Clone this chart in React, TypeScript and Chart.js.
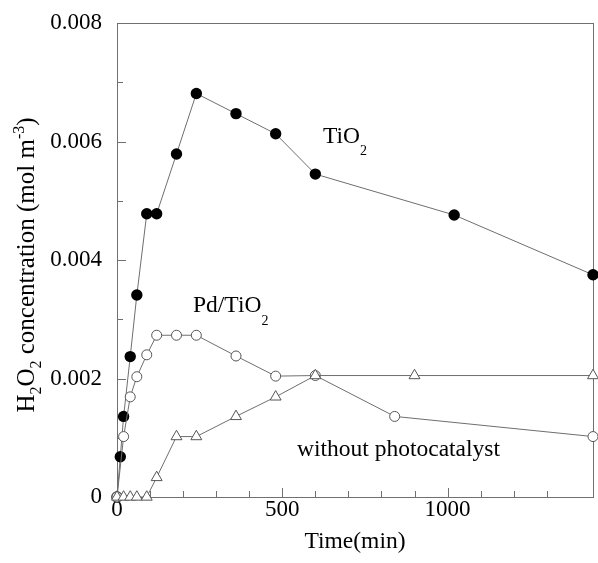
import { useEffect, useRef } from "react";
import { Chart, registerables } from "chart.js";

Chart.register(...registerables);

// Sampling times (min) and H2O2 concentrations (mol m^-3)
const timeTiO2 = [0, 10, 20, 40, 60, 90, 120, 180, 240, 360, 480, 600, 1020, 1440];
const concTiO2 = [0, 0.00068, 0.00136, 0.00237, 0.00341, 0.00478, 0.00478, 0.00579, 0.00681, 0.00647, 0.00613, 0.00545, 0.00476, 0.00375];

const timePd = [0, 20, 40, 60, 90, 120, 180, 240, 360, 480, 600, 840, 1440];
const concPd = [0, 0.00102, 0.00169, 0.00203, 0.0024, 0.00273, 0.00273, 0.00273, 0.00238, 0.00204, 0.00205, 0.00136, 0.00102];

const timeBlank = [0, 20, 40, 60, 90, 120, 180, 240, 360, 480, 600, 900, 1440];
const concBlank = [0, 0, 0, 0, 0, 0.00033, 0.00102, 0.00102, 0.00136, 0.00169, 0.00205, 0.00205, 0.00205];

// Axis ranges and tick spacing
const xMin = 0;
const xMax = 1440;
const xStep = 100;
const xLabelStep = 500;
const yMin = 0;
const yMax = 0.008;
const yStep = 0.001;
const yLabelStep = 0.002;

const SERIF = "'Liberation Serif', 'Times New Roman', serif";
const LINE = "#6e6e6e";
const FRAME = "#707070";

type Run = { text: string; size: number; dy: number };

function runsWidth(ctx: CanvasRenderingContext2D, runs: Run[]) {
  let w = 0;
  for (const r of runs) {
    ctx.font = `${r.size}px ${SERIF}`;
    w += ctx.measureText(r.text).width;
  }
  return w;
}

function drawRuns(ctx: CanvasRenderingContext2D, x: number, y: number, runs: Run[]) {
  let cx = x;
  ctx.textBaseline = "alphabetic";
  ctx.textAlign = "left";
  for (const r of runs) {
    ctx.font = `${r.size}px ${SERIF}`;
    ctx.fillText(r.text, cx, y + r.dy);
    cx += ctx.measureText(r.text).width;
  }
}

const pts = (xs: number[], ys: number[]) => xs.map((x, i) => ({ x, y: ys[i] }));

const isMultiple = (v: number, step: number) => Math.abs(v / step - Math.round(v / step)) < 1e-6;

// Frame, inward tick marks, axis titles with sub/superscripts and series labels
const frameAndTicks = {
  id: "frameAndTicks",
  beforeDatasetsDraw(chart: any) {
    const { ctx, chartArea } = chart;
    const { left, right, top, bottom } = chartArea;
    ctx.save();
    ctx.strokeStyle = FRAME;
    ctx.lineWidth = 1;
    for (const t of chart.scales.x.ticks) {
      if (!isMultiple(t.value, xStep)) continue;
      if (t.value <= xMin || t.value >= xMax) continue;
      const px = Math.round(chart.scales.x.getPixelForValue(t.value)) + 0.5;
      const len = isMultiple(t.value, xLabelStep) ? 9 : 6;
      ctx.beginPath();
      ctx.moveTo(px, bottom);
      ctx.lineTo(px, bottom - len);
      ctx.stroke();
    }
    for (const t of chart.scales.y.ticks) {
      if (!isMultiple(t.value, yStep)) continue;
      if (t.value <= yMin || t.value >= yMax) continue;
      const py = Math.round(chart.scales.y.getPixelForValue(t.value)) + 0.5;
      const len = isMultiple(t.value, yLabelStep) ? 9 : 6;
      ctx.beginPath();
      ctx.moveTo(left, py);
      ctx.lineTo(left + len, py);
      ctx.stroke();
    }
    ctx.strokeRect(Math.round(left) + 0.5, Math.round(top) + 0.5, Math.round(right - left), Math.round(bottom - top));
    ctx.restore();
  },
  afterDraw(chart: any) {
    const { ctx, chartArea } = chart;
    ctx.save();
    ctx.fillStyle = "#000";

    const xt: Run[] = [{ text: "Time(min)", size: 23.5, dy: 0 }];
    const xw = runsWidth(ctx, xt);
    drawRuns(ctx, (chartArea.left + chartArea.right) / 2 - xw / 2, 548, xt);

    const yt: Run[] = [
      { text: "H", size: 25, dy: 0 },
      { text: "2", size: 16, dy: 7 },
      { text: "O", size: 25, dy: 0 },
      { text: "2", size: 16, dy: 7 },
      { text: " concentration (mol m", size: 25, dy: 0 },
      { text: "-3", size: 16, dy: -10 },
      { text: ")", size: 25, dy: 0 },
    ];
    const yw = runsWidth(ctx, yt);
    ctx.save();
    ctx.translate(34, 265);
    ctx.rotate(-Math.PI / 2);
    drawRuns(ctx, -yw / 2, 0, yt);
    ctx.restore();

    drawRuns(ctx, 323, 143, [
      { text: "TiO", size: 23.5, dy: 0 },
      { text: "2", size: 14, dy: 12 },
    ]);
    drawRuns(ctx, 193, 312, [
      { text: "Pd/TiO", size: 23.5, dy: 0 },
      { text: "2", size: 14, dy: 13 },
    ]);
    drawRuns(ctx, 297, 456, [{ text: "without photocatalyst", size: 23.5, dy: 0 }]);
    ctx.restore();
  },
};

export default function App() {
  const canvasRef = useRef<HTMLCanvasElement | null>(null);

  useEffect(() => {
    const canvas = canvasRef.current;
    if (!canvas) return;
    const chart = new Chart(canvas, {
      type: "scatter",
      data: {
        datasets: [
          {
            label: "without photocatalyst",
            data: pts(timeBlank, concBlank),
            showLine: true,
            borderColor: LINE,
            borderWidth: 1,
            pointStyle: "triangle",
            pointRadius: 6.3,
            pointBackgroundColor: "#ffffff",
            pointBorderColor: "#555555",
            pointBorderWidth: 1,
            clip: false,
          },
          {
            label: "Pd/TiO2",
            data: pts(timePd, concPd),
            showLine: true,
            borderColor: LINE,
            borderWidth: 1,
            pointStyle: "circle",
            pointRadius: 5,
            pointBackgroundColor: "#ffffff",
            pointBorderColor: "#555555",
            pointBorderWidth: 1,
            clip: false,
          },
          {
            label: "TiO2",
            data: pts(timeTiO2, concTiO2),
            showLine: true,
            borderColor: LINE,
            borderWidth: 1,
            pointStyle: "circle",
            pointRadius: 5.7,
            pointBackgroundColor: "#000000",
            pointBorderColor: "#000000",
            pointBorderWidth: 0,
            clip: false,
          },
        ],
      },
      options: {
        responsive: false,
        animation: false,
        events: [],
        layout: { autoPadding: false, padding: { left: 0, top: 23, right: 5, bottom: 0 } },
        plugins: { legend: { display: false }, tooltip: { enabled: false } },
        scales: {
          x: {
            type: "linear",
            min: xMin,
            max: xMax,
            grid: { display: false, drawTicks: false },
            border: { display: false },
            ticks: {
              stepSize: xStep,
              autoSkip: false,
              maxRotation: 0,
              padding: -1,
              color: "#000",
              font: { family: SERIF, size: 23 },
              callback: (v: any) => (isMultiple(Number(v), xLabelStep) ? String(Math.round(Number(v))) : ""),
            },
            afterFit: (scale: any) => {
              scale.height = 66;
              scale.paddingLeft = 0;
              scale.paddingRight = 0;
            },
          },
          y: {
            type: "linear",
            min: yMin,
            max: yMax,
            grid: { display: false, drawTicks: false },
            border: { display: false },
            ticks: {
              stepSize: yStep,
              autoSkip: false,
              padding: 15,
              color: "#000",
              font: { family: SERIF, size: 23 },
              callback: (v: any) => {
                const n = Number(v);
                if (!isMultiple(n, yLabelStep)) return "";
                return n === 0 ? "0" : n.toFixed(3);
              },
            },
            afterFit: (scale: any) => {
              scale.width = 117;
              scale.paddingTop = 0;
              scale.paddingBottom = 0;
            },
          },
        },
      },
      plugins: [frameAndTicks],
    } as any);
    return () => chart.destroy();
  }, []);

  return (
    <div style={{ position: "absolute", left: 0, top: 0, width: 598, height: 563, background: "#fff" }}>
      <canvas ref={canvasRef} width={598} height={563} style={{ display: "block" }} />
    </div>
  );
}
